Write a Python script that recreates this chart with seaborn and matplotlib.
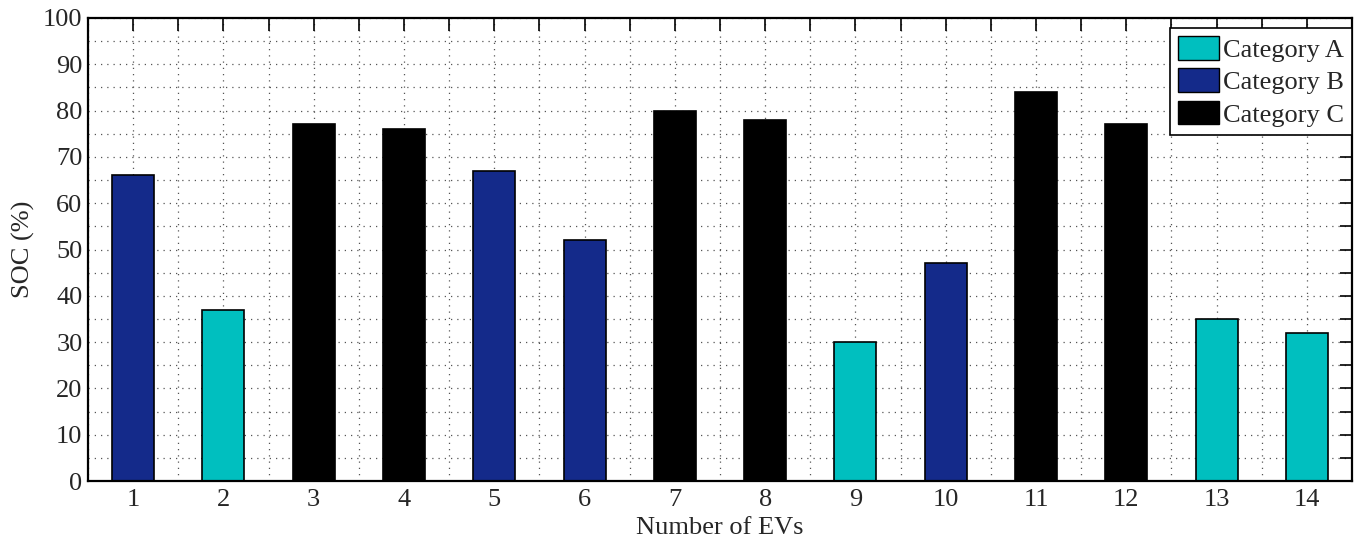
import matplotlib
matplotlib.use("Agg")
import matplotlib.pyplot as plt
import matplotlib.patches as mpatches
from matplotlib.ticker import MultipleLocator
import seaborn as sns
import pandas as pd

ev_numbers = list(range(1, 15))
soc_values = [66, 37, 77, 76, 67, 52, 80, 78, 30, 47, 84, 77, 35, 32]
categories = ["Category B", "Category A", "Category C", "Category C", "Category B",
              "Category B", "Category C", "Category C", "Category A", "Category B",
              "Category C", "Category C", "Category A", "Category A"]
category_order = ["Category A", "Category B", "Category C"]
palette = {"Category A": "#00BFBF", "Category B": "#142A8A", "Category C": "#000000"}

sns.set_style("white")
plt.rcParams["font.family"] = ["Liberation Serif", "DejaVu Serif"]

df = pd.DataFrame({"EV": ev_numbers, "SOC": soc_values, "Category": categories})

fig = plt.figure(figsize=(13.56, 5.43), dpi=100)
ax = fig.add_axes([88 / 1356, 1 - 481 / 543, (1352 - 88) / 1356, (481 - 18) / 543])

sns.barplot(data=df, x="EV", y="SOC", hue="Category", hue_order=category_order,
            palette=palette, dodge=False, native_scale=True, width=0.465,
            edgecolor="black", linewidth=1.2, saturation=1, ax=ax, legend=False)

ax.set_xlim(0.5, 14.5)
ax.set_ylim(0, 100)
ax.xaxis.set_major_locator(MultipleLocator(1))
ax.xaxis.set_minor_locator(MultipleLocator(0.5))
ax.yaxis.set_major_locator(MultipleLocator(10))
ax.yaxis.set_minor_locator(MultipleLocator(5))
ax.set_xticks(ev_numbers)
ax.set_xticklabels([str(v) for v in ev_numbers])

ax.set_axisbelow(True)
ax.grid(True, which="both", linestyle=(0, (1, 4)), color="#555555", linewidth=0.9)

ax.tick_params(axis="both", which="both", direction="in", top=True, right=True,
               length=9, width=1.2, labelsize=19, color="black")
ax.tick_params(axis="y", which="both", pad=4)
ax.tick_params(axis="x", which="both", pad=6)
for s in ax.spines.values():
    s.set_linewidth(1.6)
    s.set_color("black")

ax.set_xlabel("Number of EVs", fontsize=19, labelpad=4)
ax.set_ylabel("SOC (%)", fontsize=19, labelpad=6)

handles = [mpatches.Patch(facecolor=palette[c], edgecolor="black", linewidth=1.0, label=c)
           for c in category_order]
leg = ax.legend(handles=handles, loc="upper right", fontsize=19, frameon=True,
                fancybox=False, edgecolor="black", framealpha=1,
                handlelength=1.55, handleheight=1.0, handletextpad=0.15,
                borderpad=0.3, labelspacing=0.25, borderaxespad=0,
                bbox_to_anchor=(1.0, 1 - 10 / 463))
leg.get_frame().set_linewidth(1.2)

fig.savefig("out.png", dpi=100)
